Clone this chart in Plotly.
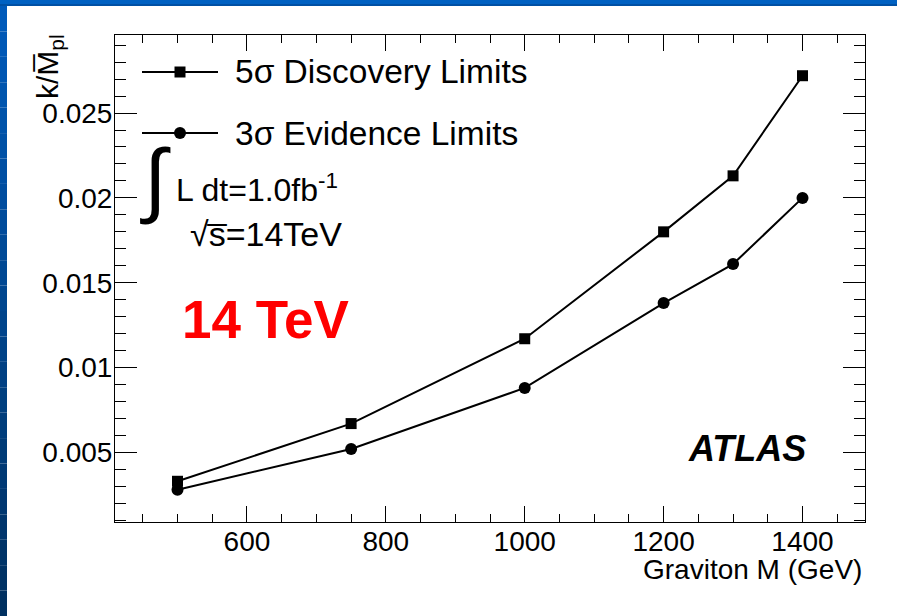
import plotly.graph_objects as go

# Graviton mass points (GeV) and k/Mpl limits
mass = [500, 750, 1000, 1200, 1300, 1400]
discovery_5sigma = [0.0033, 0.0067, 0.0117, 0.0180, 0.0213, 0.0272]
evidence_3sigma = [0.0028, 0.0052, 0.0088, 0.0138, 0.0161, 0.0200]

x_range = [410, 1490]
y_range = [0.0009, 0.0296]

W, H = 897, 616
ML, MR, MT, MB = 115, 32, 35, 94
FONT = "Liberation Sans, Arial, Helvetica, sans-serif"


def px_x(p):
    """Page pixel column -> paper x."""
    return (p - ML) / (W - ML - MR)


def px_y(p):
    """Page pixel row -> paper y."""
    return (H - MB - p) / (H - MT - MB)


fig = go.Figure()

fig.add_trace(go.Scatter(
    x=mass, y=discovery_5sigma, mode="lines+markers",
    line=dict(color="black", width=2),
    marker=dict(symbol="square", size=11, color="black"),
    showlegend=False, hoverinfo="skip"))
fig.add_trace(go.Scatter(
    x=mass, y=evidence_3sigma, mode="lines+markers",
    line=dict(color="black", width=2),
    marker=dict(symbol="circle", size=12, color="black"),
    showlegend=False, hoverinfo="skip"))

# Legend keys on an overlay axis measured in page pixels
key_x = [142, 180, 218]
for sym, ky in (("square", 72), ("circle", 133)):
    fig.add_trace(go.Scatter(
        x=key_x, y=[ky] * 3, xaxis="x2", yaxis="y2", mode="lines",
        line=dict(color="black", width=2), showlegend=False, hoverinfo="skip"))
    fig.add_trace(go.Scatter(
        x=[key_x[1]], y=[ky], xaxis="x2", yaxis="y2", mode="markers",
        marker=dict(symbol=sym, size=11 if sym == "square" else 12, color="black"),
        showlegend=False, hoverinfo="skip"))

axis_common = dict(showline=True, linecolor="black", linewidth=1, mirror="ticks",
                   ticks="inside", tickcolor="black", tickwidth=1,
                   showgrid=False, zeroline=False,
                   tickfont=dict(family=FONT, size=28, color="black"))

fig.update_layout(
    width=W, height=H,
    margin=dict(l=ML, r=MR, t=MT, b=MB, pad=0),
    paper_bgcolor="white", plot_bgcolor="white",
    xaxis=dict(range=x_range, tick0=0, dtick=200, ticklen=16, ticklabelstandoff=-6,
               minor=dict(dtick=50, ticklen=8, ticks="inside", tickcolor="black", tickwidth=1),
               **axis_common),
    yaxis=dict(range=y_range, tick0=0, dtick=0.005, ticklen=22, ticklabelstandoff=-4,
               minor=dict(dtick=0.001, ticklen=11, ticks="inside", tickcolor="black", tickwidth=1),
               **axis_common),
    xaxis2=dict(range=[ML, W - MR], overlaying="x", visible=False, anchor="y2"),
    yaxis2=dict(range=[H - MB, MT], overlaying="y", visible=False, anchor="x2"),
)


def label(text, x, y, size, xanchor="left", color="black", angle=0):
    fig.add_annotation(text=text, x=px_x(x), y=px_y(y), xref="paper", yref="paper",
                       showarrow=False, xanchor=xanchor, yanchor="middle", textangle=angle,
                       font=dict(family=FONT, size=size, color=color))


label("5\u03c3 Discovery Limits", 233, 72, 33.5)
label("3\u03c3 Evidence Limits", 233, 133, 33.5)
label("\u222b", 155, 179, 82, xanchor="center")
label("L dt=1.0fb<sup>-1</sup>", 174, 188, 32)
label("\u221as\u0305=14TeV", 188, 234, 34)
label("<b>14 TeV</b>", 180, 319, 53, color="#ff0000")
label("<b><i>ATLAS</i></b>", 686, 448, 36)
label("Graviton M (GeV)", 864, 569, 28, xanchor="right")
label("k/M\u0305<sub>pl</sub>", 50, 67, 30, xanchor="center", angle=-90)

# Slide frame: blue band along the top and a shaded band down the left side
fig.add_shape(type="rect", xref="paper", yref="paper", layer="above",
              x0=px_x(0), x1=px_x(W), y0=px_y(4), y1=px_y(0),
              fillcolor="#0061c2", line_width=0)
fig.add_shape(type="rect", xref="paper", yref="paper", layer="above",
              x0=px_x(0), x1=px_x(W), y0=px_y(6), y1=px_y(4),
              fillcolor="#0050a4", line_width=0)
n = 24
top_c, bot_c = (0, 90, 186), (0, 48, 96)
for i in range(n):
    t = i / (n - 1)
    c = tuple(round(a + (b - a) * t) for a, b in zip(top_c, bot_c))
    fig.add_shape(type="rect", xref="paper", yref="paper", layer="above",
                  x0=px_x(0), x1=px_x(7), y0=px_y(6 + (i + 1) * (H - 6) / n),
                  y1=px_y(6 + i * (H - 6) / n),
                  fillcolor="rgb(%d,%d,%d)" % c, line_width=0)

fig.write_html("out.html")
